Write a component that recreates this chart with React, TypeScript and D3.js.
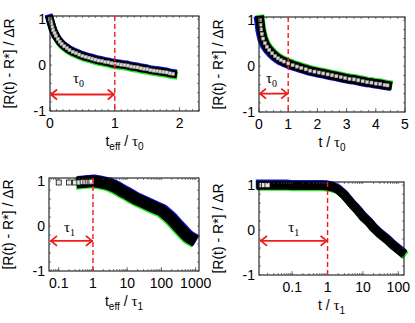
import React from 'react';
import * as d3 from 'd3';

const W = 415;
const H = 323;
const red = '#f01c1c';
const green = '#28e828';
const blue = '#1414e6';
const font = 'Liberation Sans, Arial, sans-serif';

// top-left: t_eff / tau0
const aX = [0, 0.01, 0.02, 0.035, 0.05, 0.07, 0.09, 0.12, 0.15, 0.18, 0.22, 0.26, 0.3, 0.35, 0.4, 0.45, 0.5, 0.55, 0.6, 0.65, 0.7, 0.75, 0.8, 0.85, 0.9, 0.95, 1.0, 1.05, 1.1, 1.15, 1.2, 1.25, 1.3, 1.35, 1.4, 1.45, 1.5, 1.55, 1.6, 1.65, 1.7, 1.75, 1.8, 1.85, 1.9];
const aY = [1.0, 0.95, 0.9, 0.83, 0.76, 0.7, 0.64, 0.57, 0.51, 0.46, 0.41, 0.37, 0.33, 0.29, 0.26, 0.23, 0.2, 0.18, 0.16, 0.14, 0.12, 0.1, 0.09, 0.07, 0.06, 0.04, 0.03, 0.02, 0.01, 0.0, -0.01, -0.03, -0.04, -0.05, -0.07, -0.08, -0.09, -0.11, -0.12, -0.13, -0.14, -0.15, -0.16, -0.18, -0.19];

// top-right: t / tau0
const bX = [0.03, 0.05, 0.07, 0.1, 0.14, 0.2, 0.27, 0.35, 0.45, 0.55, 0.65, 0.75, 0.85, 1.0, 1.15, 1.3, 1.45, 1.6, 1.75, 1.9, 2.05, 2.2, 2.35, 2.5, 2.65, 2.8, 2.95, 3.1, 3.25, 3.4, 3.55, 3.7, 3.85, 4.0, 4.15, 4.3, 4.4];
const bY = [1.0, 0.9, 0.8, 0.7, 0.6, 0.5, 0.42, 0.35, 0.28, 0.22, 0.17, 0.13, 0.1, 0.06, 0.02, -0.01, -0.04, -0.07, -0.1, -0.12, -0.14, -0.16, -0.18, -0.2, -0.22, -0.24, -0.26, -0.28, -0.29, -0.31, -0.33, -0.35, -0.36, -0.38, -0.39, -0.41, -0.42];

// bottom-left: t_eff / tau1 (log)
const cOpenX = [0.1, 0.2, 0.3, 0.4, 0.5, 0.6, 0.7, 0.8, 0.9];
const cOpenY = [0.97, 0.97, 0.97, 0.97, 0.98, 0.98, 0.98, 0.98, 0.99];
const cX = [0.5, 0.7, 1, 1.5, 2, 3, 5, 7, 10, 15, 20, 30, 50, 70, 100, 150, 200, 300, 400, 500, 600, 700];
const cY = [0.98, 0.99, 1.0, 0.98, 0.96, 0.93, 0.85, 0.78, 0.72, 0.64, 0.59, 0.53, 0.45, 0.4, 0.35, 0.24, 0.15, 0.0, -0.1, -0.18, -0.24, -0.27];

// bottom-right: t / tau1 (log)
const dOpenX = [0.013, 0.016, 0.02];
const dOpenY = [1.0, 1.0, 1.0];
const dX = [0.013, 0.02, 0.03, 0.05, 0.07, 0.1, 0.15, 0.2, 0.3, 0.5, 0.7, 1.0, 1.5, 2, 3, 5, 7, 10, 15, 20, 30, 50, 70, 100, 120];
const dY = [1.0, 1.0, 1.0, 1.0, 1.0, 0.99, 0.99, 0.99, 0.99, 0.99, 0.99, 0.98, 0.95, 0.9, 0.78, 0.57, 0.45, 0.3, 0.17, 0.05, -0.08, -0.22, -0.33, -0.43, -0.48];

const yTicks = [-1, 0, 1];
const aTicks = [0, 1, 2];
const bTicks = [0, 1, 2, 3, 4, 5];
const cTicks = [0.1, 1, 10, 100, 1000];
const dTicks = [0.1, 1, 10, 100];

const Title = ({ sub1, tau }) => (
  <>
    <tspan>t</tspan>
    {sub1 && <tspan dy={4} fontSize={10}>{sub1}</tspan>}
    <tspan dy={sub1 ? -4 : 0}> / </tspan>
    <tspan fontFamily="Liberation Serif, serif" fontSize={15}>τ</tspan>
    <tspan dy={4} fontSize={10}>{tau}</tspan>
  </>
);

function Panel({ frame, log, xDomain, xTicks, minor, xs, ys, openX, openY, gray, shiftG, shiftB, bw, sub1, tau, tickFmt, arrowY, tauPos }) {
  const { l, r, t, b } = frame;
  const x = (log ? d3.scaleLog() : d3.scaleLinear()).domain(xDomain).range([l, r]);
  const y = d3.scaleLinear().domain([-1, 1.07]).range([b, t]);
  const pts = xs.map((v, i) => [x(v), y(ys[i])]);
  const line = d3.line();
  const path = line(pts);
  let xMinor = [];
  if (log) {
    const lo = Math.floor(Math.log10(xDomain[0]));
    const hi = Math.ceil(Math.log10(xDomain[1]));
    for (let e = lo; e <= hi; e++) for (let k = 1; k < 10; k++) {
      const v = k * Math.pow(10, e);
      if (v >= xDomain[0] && v <= xDomain[1]) xMinor.push(v);
    }
  } else {
    xMinor = d3.range(xDomain[0], xDomain[1] + 1e-9, minor);
  }
  const yMinor = d3.range(-1, 1.07, 0.2);
  const x1 = x(1);
  const ax0 = log ? l + 1 : x(0);
  const ay = y(arrowY);
  const cx = (l + r) / 2;
  const cy = (t + b) / 2;
  return (
    <g>
      <g fill="none" strokeLinejoin="round" strokeLinecap="square">
        <path d={path} stroke={green} strokeWidth={bw} transform={`translate(${shiftG[0]},${shiftG[1]})`} />
        <path d={path} stroke={blue} strokeWidth={bw} transform={`translate(${shiftB[0]},${shiftB[1]})`} />
        <path d={path} stroke="#000" strokeWidth={bw} />
      </g>
      {openX && openX.map((v, i) => (
        <rect key={i} x={x(v) - 2.5} y={y(openY[i]) - 2.5} width={5} height={5} fill="#e8e8e8" stroke="#111" strokeWidth={0.8} />
      ))}
      {gray && pts.map((p, i) => (
        <rect key={i} x={p[0] - 1.6} y={p[1] - 1.6} width={3.2} height={3.2} fill="#d8d8d8" stroke="#8a8a8a" strokeWidth={0.5} />
      ))}
      <rect x={l} y={t} width={r - l} height={b - t} fill="none" stroke="#000" strokeWidth={1} />
      <g stroke="#444" strokeWidth={0.7}>
        {xMinor.map((v, i) => (
          <g key={i}>
            <line x1={x(v)} x2={x(v)} y1={b} y2={b - 2} />
            <line x1={x(v)} x2={x(v)} y1={t} y2={t + 2} />
          </g>
        ))}
        {yMinor.map((v, i) => (
          <g key={i}>
            <line x1={l} x2={l + 2} y1={y(v)} y2={y(v)} />
            <line x1={r} x2={r - 2} y1={y(v)} y2={y(v)} />
          </g>
        ))}
        {xTicks.map((v, i) => (
          <line key={i} x1={x(v)} x2={x(v)} y1={b} y2={b - 4} />
        ))}
      </g>
      <line x1={x1} x2={x1} y1={t} y2={b} stroke={red} strokeWidth={1.4} strokeDasharray="5,3" />
      <g stroke={red} strokeWidth={1.8} fill="none">
        <line x1={ax0} x2={x1} y1={ay} y2={ay} />
        <polyline points={`${ax0 + 7},${ay - 5} ${ax0 + 1},${ay} ${ax0 + 7},${ay + 5}`} />
        <polyline points={`${x1 - 7},${ay - 5} ${x1 - 1},${ay} ${x1 - 7},${ay + 5}`} />
      </g>
      <text x={(ax0 + x1) / 2 + tauPos[0]} y={ay + tauPos[1]} textAnchor="middle" fontSize={15} fontFamily="Liberation Serif, serif" fill="#000">
        τ<tspan dy={4} fontSize={10}>{tau}</tspan>
      </text>
      <g fontFamily={font} fontSize={14} fill="#000">
        {xTicks.map((v, i) => (
          <text key={i} x={x(v)} y={b + 17} textAnchor="middle">{tickFmt(v)}</text>
        ))}
        {yTicks.map((v, i) => (
          <text key={i} x={l - 4} y={y(v) + 5} textAnchor="end">{v}</text>
        ))}
        <text x={cx} y={b + 35} textAnchor="middle"><Title sub1={sub1} tau={tau} /></text>
        <text transform={`translate(${l - 36},${cy}) rotate(-90)`} textAnchor="middle" fontSize={14}>[R(t) - R*] / ΔR</text>
      </g>
    </g>
  );
}

export default function App() {
  const fmt = (v) => String(v);
  return (
    <svg width={W} height={H} style={{ position: 'absolute', left: 0, top: 0, background: '#fff' }}>
      <Panel frame={{ l: 50, r: 199, t: 16, b: 111 }} xDomain={[0, 2.3]} xTicks={aTicks} minor={0.1}
        xs={aX} ys={aY} gray shiftG={[0.5, 1.5]} shiftB={[-0.5, -1]} bw={8} sub1="eff" tau="0"
        tickFmt={fmt} arrowY={-0.64} tauPos={[-4, -11]} />
      <Panel frame={{ l: 259, r: 405, t: 17, b: 112 }} xDomain={[0, 5]} xTicks={bTicks} minor={0.25}
        xs={bX} ys={bY} gray shiftG={[0.5, -1]} shiftB={[-1.2, 0.5]} bw={9} tau="0"
        tickFmt={fmt} arrowY={-0.6} tauPos={[-2, -11]} />
      <Panel frame={{ l: 49, r: 199, t: 178, b: 271 }} log xDomain={[0.052, 1250]} xTicks={cTicks}
        xs={cX} ys={cY} openX={cOpenX} openY={cOpenY} shiftG={[-1, 1.2]} shiftB={[1, -0.6]} bw={12} sub1="eff" tau="1"
        tickFmt={fmt} arrowY={-0.33} tauPos={[-2, -9]} />
      <Panel frame={{ l: 259, r: 404, t: 182, b: 275 }} log xDomain={[0.0115, 145]} xTicks={dTicks}
        xs={dX} ys={dY} openX={dOpenX} openY={dOpenY} shiftG={[1.2, 1.2]} shiftB={[-0.6, -1.2]} bw={9} tau="1"
        tickFmt={fmt} arrowY={-0.24} tauPos={[0, -9]} />
    </svg>
  );
}
